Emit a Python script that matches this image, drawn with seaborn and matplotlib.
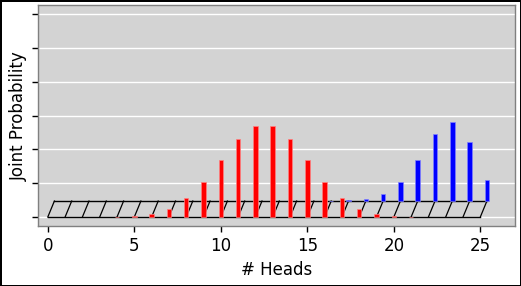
import matplotlib
matplotlib.use("Agg")
import matplotlib.pyplot as plt
import seaborn as sns
import pandas as pd

# Red: joint probability for first coin (front row)
red_heads = [4, 5, 6, 7, 8, 9, 10, 11, 12, 13, 14, 15, 16, 17, 18, 19, 20, 21]
red_prob = [0.0003, 0.0014, 0.0046, 0.0115, 0.0275, 0.0525, 0.0845, 0.1155, 0.1352,
            0.1352, 0.1155, 0.0845, 0.0525, 0.0275, 0.0115, 0.0046, 0.0014, 0.0003]
# Blue: joint probability for second coin (back row)
blue_heads = [16, 17, 18, 19, 20, 21, 22, 23, 24, 25]
blue_prob = [0.0002, 0.0008, 0.0032, 0.0105, 0.0283, 0.0606, 0.0992, 0.1165, 0.0873, 0.0314]
floor_ticks = list(range(0, 26))
xtick_vals = [0, 5, 10, 15, 20, 25]

depth_dx = 0.38
depth_dy = 0.0236

fig = plt.figure(figsize=(5.21, 2.86), dpi=100)
fig.patch.set_facecolor("white")
fig.patch.set_edgecolor("black")
fig.patch.set_linewidth(2)
ax = fig.add_axes([0.0735, 0.2108, 0.9155, 0.7707])
ax.set_facecolor("#d3d3d3")
ax.set_axisbelow(True)
ax.yaxis.grid(True, color="white", linewidth=1.0)
for s in ax.spines.values():
    s.set_color("#808080")
    s.set_linewidth(1.0)

# floor parallelogram
ax.plot([floor_ticks[0], floor_ticks[-1]], [0, 0], color="black", lw=1.0, zorder=2)
ax.plot([floor_ticks[0] + depth_dx, floor_ticks[-1] + depth_dx], [depth_dy, depth_dy],
        color="black", lw=1.0, zorder=2)
for k in floor_ticks:
    ax.plot([k, k + depth_dx], [0, depth_dy], color="black", lw=0.9, zorder=2)

blue_df = pd.DataFrame({"x": [h + depth_dx for h in blue_heads], "y": blue_prob})
red_df = pd.DataFrame({"x": red_heads, "y": red_prob})

sns.barplot(data=blue_df, x="x", y="y", native_scale=True, width=0.26,
            color="blue", saturation=1, edgecolor="#8080ff", linewidth=0.5,
            bottom=depth_dy, ax=ax, zorder=3)
sns.barplot(data=red_df, x="x", y="y", native_scale=True, width=0.26,
            color="red", saturation=1, edgecolor="#ff8080", linewidth=0.5,
            ax=ax, zorder=4)

ax.set_xlim(-0.55, 27.02)
ax.set_ylim(-0.0129, 0.3132)
ax.set_xticks(xtick_vals)
ax.set_xticklabels([str(v) for v in xtick_vals], fontsize=12)
ax.set_yticks([0, 0.05, 0.10, 0.15, 0.20, 0.25, 0.30])
ax.set_yticklabels([])
ax.tick_params(axis="both", length=4.5, width=1, color="black")
ax.set_xlabel("# Heads", fontsize=12, labelpad=4.5)
ax.set_ylabel("Joint Probability", fontsize=12)
ax.yaxis.set_label_coords(-0.022, 0.495)

fig.savefig("out.png", dpi=100, edgecolor=fig.get_edgecolor())
